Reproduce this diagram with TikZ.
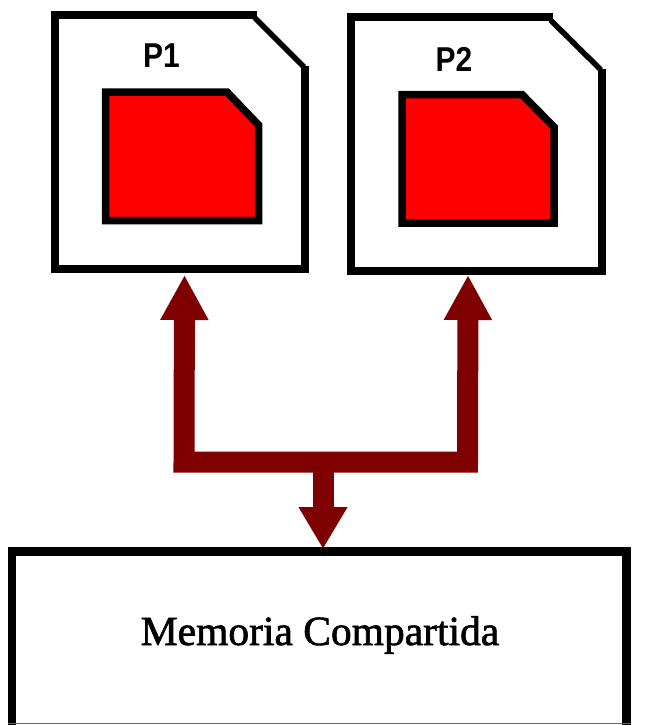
\documentclass[tikz,border=0pt]{standalone}
\usepackage{fontspec}
\setmainfont{Liberation Serif}
\newfontfamily\labelsans{Liberation Sans}
\newfontfamily\memfont[FakeBold=1.6]{Liberation Serif}
\usetikzlibrary{arrows.meta}
\definecolor{busred}{HTML}{7F0000}
\tikzset{
  x=1pt,y=-1pt,
  outline/.style={draw=black,line width=8pt,miter limit=10},
  slant/.style={draw=black,line width=5.5pt},
  chip/.style={draw=black,line width=7.5pt,fill=red,miter limit=10},
  anchorbox/.style={inner sep=0pt,outer sep=0pt,draw=none},
  plabel/.style={font=\labelsans\bfseries\fontsize{30}{30}\selectfont,text=black,inner sep=0pt},
  memlabel/.style={font=\memfont\fontsize{41.5}{42}\selectfont,inner sep=0pt,anchor=base},
  bus/.style={draw=busred,line width=21pt,line join=miter,
    {Triangle[length=45pt,width=45pt,color=busred]}-{Triangle[length=45pt,width=45pt,color=busred]}},
  stem/.style={draw=busred,line width=21pt,-{Triangle[length=42pt,width=46pt,color=busred]}},
}
\begin{document}
\begin{tikzpicture}
\useasboundingbox (0,0) rectangle (668,725);
\fill[white] (0,0) rectangle (668,725);
% P1
\draw[outline] (257,15) -- (54.5,15) -- (54.5,268.5) -- (305,268.5) -- (305,66);
\draw[slant] (254.5,17.5) -- (304,67);
\draw[chip] (105.5,92) -- (227,92) -- (258.5,125) -- (258.5,220.5) -- (105.5,220.5) -- cycle;
\node[plabel] (p1label) at (161.5,56) {\scalebox{1}[1.15]{P1}};
% P2
\draw[outline] (553,17) -- (351,17) -- (351,271) -- (602,271) -- (602,69);
\draw[slant] (550.5,20) -- (601,70);
\draw[chip] (402,94.5) -- (522,94.5) -- (554,127) -- (554,223) -- (402,223) -- cycle;
\node[plabel] (p2label) at (454,59) {\scalebox{1}[1.15]{P2}};
% Memory
\draw[outline,line width=8.5pt] (12,740) -- (12,551.5) -- (626.5,551.5) -- (626.5,740);
\draw[black!60,line width=1pt] (8,723.8) -- (631,723.8);
\node[memlabel] (mem) at (320,645) {Memoria Compartida};
% connectors
\node[anchorbox] (p1) at (184.5,275) {};
\node[anchorbox] (p2) at (468,275) {};
\node[anchorbox] (m) at (323,549) {};
\coordinate (bl) at (184,462);
\coordinate (br) at (467.5,462);
\coordinate (j) at (323,462);
\draw[bus] (p1.center) -- (bl) -- (br) -- (p2.center);
\draw[stem] (j) -- (m.center);
\end{tikzpicture}
\end{document}
